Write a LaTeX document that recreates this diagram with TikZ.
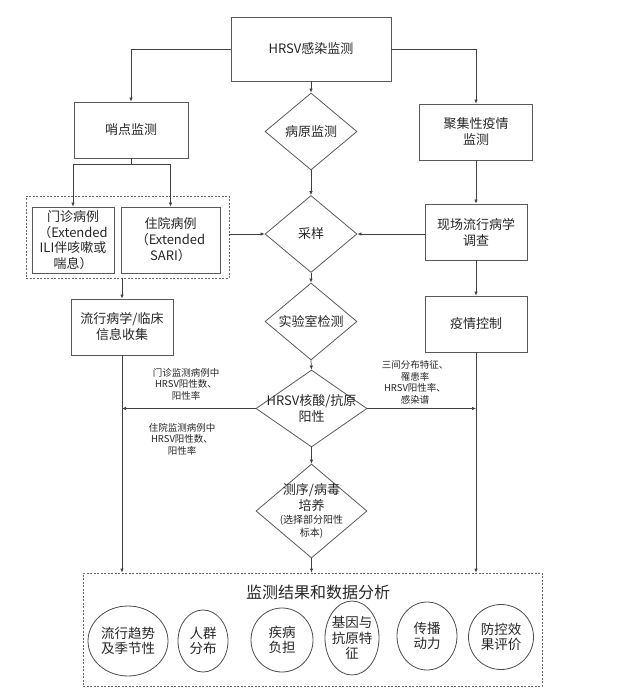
\documentclass[tikz,border=0pt]{standalone}
\usepackage{fontspec}
\newfontfamily\cjk{Noto Sans CJK SC}
\usepackage{tikz}
\usetikzlibrary{arrows.meta,calc,shapes.geometric}

\begin{document}
\begin{tikzpicture}[x=1pt,y=-1pt,>={Latex[length=4pt,width=3.5pt]},
  every node/.style={font=\cjk\fontsize{13}{16}\selectfont,text=black!85},
  box/.style={draw=black!65,line width=0.8pt,minimum width=102pt,minimum height=56pt,align=center,inner sep=1pt},
  dia/.style={draw=black!65,line width=0.8pt,diamond,minimum width=92pt,minimum height=77pt,inner sep=0pt},
  grp/.style={draw=black!60,line width=0.7pt,dash pattern=on 2pt off 1.5pt},
  ell/.style={draw=black!70,line width=0.8pt,ellipse,align=center,inner sep=-2pt,font=\cjk\fontsize{13.5}{15.5}\selectfont},
  note/.style={font=\cjk\fontsize{9.5}{11.5}\selectfont,align=center},
  link/.style={->,draw=black!75,line width=0.7pt}]
  \useasboundingbox (0,0) rectangle (623,696);

  % top level
  \node[box,minimum width=160pt,minimum height=64pt] (top) at (311,49) {HRSV感染监测};
  \node[box,minimum width=114pt] (shaodian) at (131,130) {哨点监测};
  \node[dia,label={center:病原监测}] (bingyuan) at (311,131.5) {};
  \node[box,minimum width=113pt] (juji) at (476,132) {聚集性疫情\\监测};

  % cases
  \node[box,minimum width=82pt,minimum height=66pt,font=\cjk\fontsize{13}{15.5}\selectfont] (menzhen) at (73,240) {门诊病例\\（Extended\\ILI伴咳嗽或\\喘息）};
  \node[box,minimum width=99pt,minimum height=66pt] (zhuyuan) at (170.5,240) {住院病例\\（Extended\\SARI）};
  \node[grp,minimum width=203pt,minimum height=82pt] (bingli) at (127.5,237) {};
  \node[dia,label={center:采样}] (caiyang) at (311,234) {};
  \node[box] (xianchang) at (476,232) {现场流行病学\\调查};

  \node[box] (liuxing) at (122,327) {流行病学/临床\\信息收集};
  \node[dia,label={center:实验室检测}] (shiyan) at (311,321.5) {};
  \node[box] (yiqing) at (476,324) {疫情控制};

  \node[dia,minimum width=111pt,label={[align=center]center:HRSV核酸/抗原\\阳性}] (hesuan) at (311.5,408.5) {};
  \node[dia,minimum width=111pt,minimum height=94pt,
    label={[align=center]center:测序/病毒\\培养\\[-3pt]{\fontsize{10}{12}\selectfont(选择部分阳性}\\[-3pt]{\fontsize{10}{12}\selectfont 标本)}}] (cexu) at (311.5,511) {};

  % notes
  \node[note] (mz-note) at (186,384) {门诊监测病例中\\HRSV阳性数、\\阳性率};
  \node[note] (zy-note) at (182,439) {住院监测病例中\\HRSV阳性数、\\阳性率};
  \node[note] (jj-note) at (415,382.5) {三间分布特征、\\罹患率\\HRSV阳性率、\\感染谱};

  % results
  \node[grp,minimum width=459pt,minimum height=113pt] (jieguo) at (312.5,629.5) {};
  \node[font=\cjk\fontsize{16}{18}\selectfont] (jieguo-t) at (318,592) {监测结果和数据分析};
  \node[ell,minimum width=80pt,minimum height=70pt] (quxian) at (128,641) {流行趋势\\及季节性};
  \node[ell,minimum width=50pt,minimum height=62pt] (renqun) at (203,641) {人群\\分布};
  \node[ell,minimum width=62pt,minimum height=64pt] (fudan) at (282,640) {疾病\\负担};
  \node[ell,minimum width=54pt,minimum height=74pt] (jiyin) at (352,638) {基因与\\抗原特\\征};
  \node[ell,minimum width=60pt,minimum height=68pt] (chuanbo) at (427,636) {传播\\动力};
  \node[ell,minimum width=65pt,minimum height=65pt] (pingjia) at (501,637) {防控效\\果评价};

  % connectors
  \draw[link] (top.west) -| (shaodian.north);
  \draw[link] (top.east) -| (juji.north);
  \draw[link] (top.south) -- (bingyuan.north);
  \draw[link] (shaodian.south) -- ++(0,6) -| (menzhen.north);
  \draw[link] (shaodian.south) -- ++(0,6) -| (zhuyuan.north);
  \draw[link] (bingyuan.south) -- (caiyang.north);
  \draw[link] (caiyang -| bingli.east) -- (caiyang.west);
  \draw[link] (juji.south) -- (xianchang.north);
  \draw[link] (caiyang -| xianchang.west) -- (caiyang.east);
  \draw[link] (liuxing.north |- bingli.south) -- (liuxing.north);
  \draw[link] (caiyang.south) -- (shiyan.north);
  \draw[link] (xianchang.south) -- (yiqing.north);
  \draw[link] (shiyan.south) -- (hesuan.north);
  \draw[link] (hesuan.south) -- (cexu.north);
  \draw[link] (hesuan.west) -- (hesuan -| liuxing.south);
  \draw[link] (hesuan.east) -- (hesuan -| yiqing.south);
  \draw[link] (liuxing.south) -- (liuxing.south |- jieguo.north);
  \draw[link] (yiqing.south) -- (yiqing.south |- jieguo.north);
  \draw[link] (cexu.south) -- (jieguo.north -| cexu.south);
\end{tikzpicture}
\end{document}
